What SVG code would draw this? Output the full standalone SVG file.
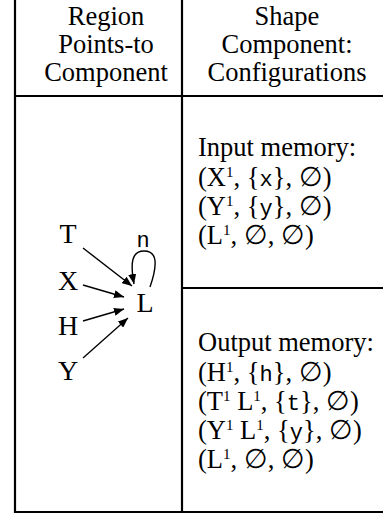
<svg xmlns="http://www.w3.org/2000/svg" width="383" height="516" viewBox="0 0 383 516">
<style>
.t{font-family:"Liberation Serif","Times New Roman",serif;font-size:26.5px;fill:#000}
.n{font-size:28px}
.c{text-anchor:middle}
.tt{font-family:"Liberation Mono","Courier New",monospace;font-size:22px}
.s{font-size:15px}
.rule{stroke:#000;stroke-width:2.2;fill:none}
.edge{stroke:#000;stroke-width:1.4;fill:none}
</style>
<defs>
<marker id="ah" viewBox="0 0 10 8" refX="10" refY="4" markerWidth="10" markerHeight="8" markerUnits="userSpaceOnUse" orient="auto">
<path d="M0,0 L10,4 L0,8 Z" fill="#000"/>
</marker>
</defs>
<g id="table">
<line class="rule" x1="15" y1="0" x2="15" y2="513"/>
<line class="rule" x1="182" y1="0" x2="182" y2="513"/>
<line class="rule" x1="14" y1="96" x2="383" y2="96"/>
<line class="rule" x1="182" y1="288" x2="383" y2="288"/>
<line class="rule" x1="14" y1="512" x2="383" y2="512"/>
</g>
<g id="header-left">
<text class="t c" x="106" y="25">Region</text>
<text class="t c" x="106" y="53">Points-to</text>
<text class="t c" x="106" y="81">Component</text>
</g>
<g id="header-right">
<text class="t c" x="287" y="25">Shape</text>
<text class="t c" x="287" y="53">Component:</text>
<text class="t c" x="287" y="81">Configurations</text>
</g>
<g id="input-memory">
<text class="t" x="198" y="156">Input memory:</text>
<text class="t" x="198" y="186">(X<tspan class="s" dy="-9">1</tspan><tspan dy="9">, {</tspan><tspan class="tt">x</tspan>}, ∅)</text>
<text class="t" x="198" y="215">(Y<tspan class="s" dy="-9">1</tspan><tspan dy="9">, {</tspan><tspan class="tt">y</tspan>}, ∅)</text>
<text class="t" x="198" y="244">(L<tspan class="s" dy="-9">1</tspan><tspan dy="9">, ∅, ∅)</tspan></text>
</g>
<g id="output-memory">
<text class="t" x="198" y="351">Output memory:</text>
<text class="t" x="198" y="381">(H<tspan class="s" dy="-9">1</tspan><tspan dy="9">, {</tspan><tspan class="tt">h</tspan>}, ∅)</text>
<text class="t" x="198" y="410">(T<tspan class="s" dy="-9">1</tspan><tspan dy="9"> L</tspan><tspan class="s" dy="-9">1</tspan><tspan dy="9">, {</tspan><tspan class="tt">t</tspan>}, ∅)</text>
<text class="t" x="198" y="439">(Y<tspan class="s" dy="-9">1</tspan><tspan dy="9"> L</tspan><tspan class="s" dy="-9">1</tspan><tspan dy="9">, {</tspan><tspan class="tt">y</tspan>}, ∅)</text>
<text class="t" x="198" y="468">(L<tspan class="s" dy="-9">1</tspan><tspan dy="9">, ∅, ∅)</tspan></text>
</g>
<g id="node-T"><text class="t n c" x="68" y="243">T</text></g>
<g id="node-X"><text class="t n c" x="68" y="290">X</text></g>
<g id="node-H"><text class="t n c" x="68" y="335">H</text></g>
<g id="node-Y"><text class="t n c" x="68" y="380">Y</text></g>
<g id="node-L"><text class="t n c" x="145" y="312">L</text></g>
<g id="connectors">
<line class="edge" x1="83" y1="248" x2="132" y2="286" marker-end="url(#ah)"/>
<line class="edge" x1="83" y1="285" x2="124" y2="297" marker-end="url(#ah)"/>
<line class="edge" x1="83" y1="321" x2="124" y2="309" marker-end="url(#ah)"/>
<line class="edge" x1="83" y1="358" x2="128" y2="318" marker-end="url(#ah)"/>
<path class="edge" d="M150,287 C160,258 154,251 144,251 C132,251 130,262 134,284" marker-end="url(#ah)"/>
<text class="tt" x="143" y="247" text-anchor="middle">n</text>
</g>
</svg>
